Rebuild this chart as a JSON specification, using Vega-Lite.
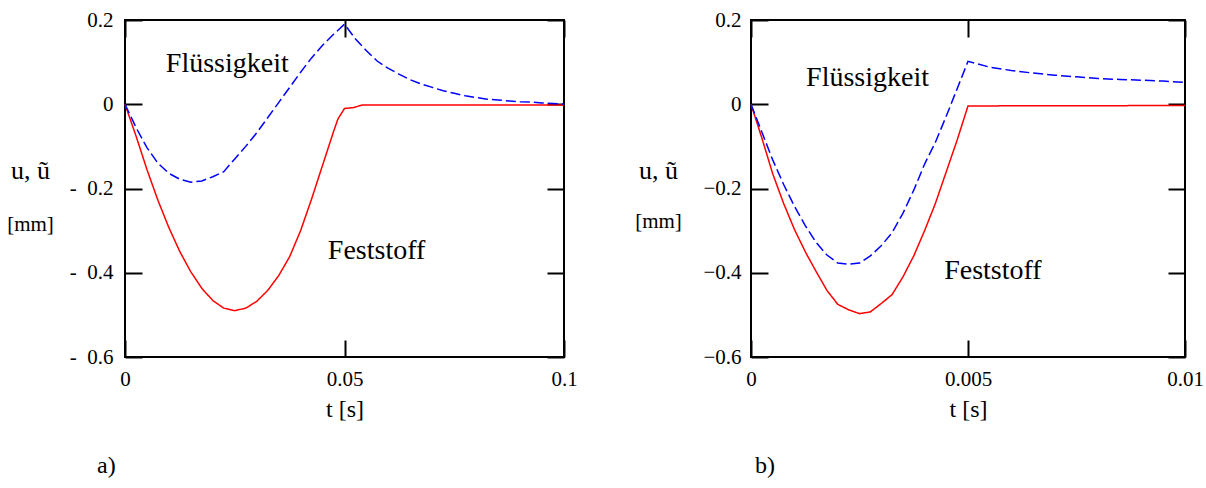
{
  "$schema": "https://vega.github.io/schema/vega-lite/v6.json",
  "background": "white",
  "padding": {"left": 5, "top": 8, "right": 0, "bottom": 5},
  "datasets": {
    "a": [
      {"t": 0, "u": 0, "s": "Feststoff"},
      {"t": 0.0025, "u": -0.075, "s": "Feststoff"},
      {"t": 0.005, "u": -0.155, "s": "Feststoff"},
      {"t": 0.0075, "u": -0.228, "s": "Feststoff"},
      {"t": 0.01, "u": -0.293, "s": "Feststoff"},
      {"t": 0.0125, "u": -0.35, "s": "Feststoff"},
      {"t": 0.015, "u": -0.398, "s": "Feststoff"},
      {"t": 0.0175, "u": -0.437, "s": "Feststoff"},
      {"t": 0.02, "u": -0.466, "s": "Feststoff"},
      {"t": 0.0225, "u": -0.484, "s": "Feststoff"},
      {"t": 0.025, "u": -0.49, "s": "Feststoff"},
      {"t": 0.0275, "u": -0.484, "s": "Feststoff"},
      {"t": 0.03, "u": -0.468, "s": "Feststoff"},
      {"t": 0.0325, "u": -0.442, "s": "Feststoff"},
      {"t": 0.035, "u": -0.407, "s": "Feststoff"},
      {"t": 0.0375, "u": -0.362, "s": "Feststoff"},
      {"t": 0.04, "u": -0.3, "s": "Feststoff"},
      {"t": 0.0425, "u": -0.225, "s": "Feststoff"},
      {"t": 0.045, "u": -0.145, "s": "Feststoff"},
      {"t": 0.0475, "u": -0.065, "s": "Feststoff"},
      {"t": 0.0485, "u": -0.035, "s": "Feststoff"},
      {"t": 0.05, "u": -0.01, "s": "Feststoff"},
      {"t": 0.052, "u": -0.008, "s": "Feststoff"},
      {"t": 0.054, "u": -0.002, "s": "Feststoff"},
      {"t": 0.1, "u": -0.002, "s": "Feststoff"},
      {"t": 0, "u": 0, "s": "Flüssigkeit"},
      {"t": 0.0025, "u": -0.055, "s": "Flüssigkeit"},
      {"t": 0.005, "u": -0.103, "s": "Flüssigkeit"},
      {"t": 0.0075, "u": -0.14, "s": "Flüssigkeit"},
      {"t": 0.01, "u": -0.164, "s": "Flüssigkeit"},
      {"t": 0.0125, "u": -0.178, "s": "Flüssigkeit"},
      {"t": 0.015, "u": -0.185, "s": "Flüssigkeit"},
      {"t": 0.0175, "u": -0.182, "s": "Flüssigkeit"},
      {"t": 0.02, "u": -0.172, "s": "Flüssigkeit"},
      {"t": 0.0225, "u": -0.16, "s": "Flüssigkeit"},
      {"t": 0.025, "u": -0.13, "s": "Flüssigkeit"},
      {"t": 0.0275, "u": -0.1, "s": "Flüssigkeit"},
      {"t": 0.03, "u": -0.068, "s": "Flüssigkeit"},
      {"t": 0.0325, "u": -0.032, "s": "Flüssigkeit"},
      {"t": 0.035, "u": 0.004, "s": "Flüssigkeit"},
      {"t": 0.0375, "u": 0.04, "s": "Flüssigkeit"},
      {"t": 0.04, "u": 0.076, "s": "Flüssigkeit"},
      {"t": 0.0425, "u": 0.11, "s": "Flüssigkeit"},
      {"t": 0.045, "u": 0.14, "s": "Flüssigkeit"},
      {"t": 0.0475, "u": 0.166, "s": "Flüssigkeit"},
      {"t": 0.05, "u": 0.19, "s": "Flüssigkeit"},
      {"t": 0.0525, "u": 0.155, "s": "Flüssigkeit"},
      {"t": 0.055, "u": 0.127, "s": "Flüssigkeit"},
      {"t": 0.0575, "u": 0.102, "s": "Flüssigkeit"},
      {"t": 0.06, "u": 0.085, "s": "Flüssigkeit"},
      {"t": 0.0625, "u": 0.071, "s": "Flüssigkeit"},
      {"t": 0.065, "u": 0.058, "s": "Flüssigkeit"},
      {"t": 0.0675, "u": 0.048, "s": "Flüssigkeit"},
      {"t": 0.07, "u": 0.04, "s": "Flüssigkeit"},
      {"t": 0.0725, "u": 0.032, "s": "Flüssigkeit"},
      {"t": 0.075, "u": 0.026, "s": "Flüssigkeit"},
      {"t": 0.0775, "u": 0.02, "s": "Flüssigkeit"},
      {"t": 0.08, "u": 0.016, "s": "Flüssigkeit"},
      {"t": 0.0825, "u": 0.012, "s": "Flüssigkeit"},
      {"t": 0.085, "u": 0.01, "s": "Flüssigkeit"},
      {"t": 0.0875, "u": 0.008, "s": "Flüssigkeit"},
      {"t": 0.09, "u": 0.006, "s": "Flüssigkeit"},
      {"t": 0.0925, "u": 0.005, "s": "Flüssigkeit"},
      {"t": 0.095, "u": 0.003, "s": "Flüssigkeit"},
      {"t": 0.0975, "u": 0.002, "s": "Flüssigkeit"},
      {"t": 0.1, "u": 0, "s": "Flüssigkeit"}
    ],
    "b": [
      {"t": 0, "u": 0, "s": "Feststoff"},
      {"t": 0.00025, "u": -0.08, "s": "Feststoff"},
      {"t": 0.0005, "u": -0.165, "s": "Feststoff"},
      {"t": 0.00075, "u": -0.235, "s": "Feststoff"},
      {"t": 0.001, "u": -0.297, "s": "Feststoff"},
      {"t": 0.00125, "u": -0.35, "s": "Feststoff"},
      {"t": 0.0015, "u": -0.397, "s": "Feststoff"},
      {"t": 0.00175, "u": -0.442, "s": "Feststoff"},
      {"t": 0.002, "u": -0.475, "s": "Feststoff"},
      {"t": 0.00225, "u": -0.488, "s": "Feststoff"},
      {"t": 0.0025, "u": -0.497, "s": "Feststoff"},
      {"t": 0.00275, "u": -0.493, "s": "Feststoff"},
      {"t": 0.003, "u": -0.473, "s": "Feststoff"},
      {"t": 0.00325, "u": -0.452, "s": "Feststoff"},
      {"t": 0.0035, "u": -0.41, "s": "Feststoff"},
      {"t": 0.00375, "u": -0.36, "s": "Feststoff"},
      {"t": 0.004, "u": -0.3, "s": "Feststoff"},
      {"t": 0.00425, "u": -0.235, "s": "Feststoff"},
      {"t": 0.0045, "u": -0.16, "s": "Feststoff"},
      {"t": 0.00475, "u": -0.085, "s": "Feststoff"},
      {"t": 0.005, "u": -0.004, "s": "Feststoff"},
      {"t": 0.01, "u": -0.003, "s": "Feststoff"},
      {"t": 0, "u": 0, "s": "Flüssigkeit"},
      {"t": 0.00025, "u": -0.066, "s": "Flüssigkeit"},
      {"t": 0.0005, "u": -0.132, "s": "Flüssigkeit"},
      {"t": 0.00075, "u": -0.19, "s": "Flüssigkeit"},
      {"t": 0.001, "u": -0.242, "s": "Flüssigkeit"},
      {"t": 0.00125, "u": -0.288, "s": "Flüssigkeit"},
      {"t": 0.0015, "u": -0.328, "s": "Flüssigkeit"},
      {"t": 0.00175, "u": -0.358, "s": "Flüssigkeit"},
      {"t": 0.002, "u": -0.377, "s": "Flüssigkeit"},
      {"t": 0.00225, "u": -0.38, "s": "Flüssigkeit"},
      {"t": 0.0025, "u": -0.377, "s": "Flüssigkeit"},
      {"t": 0.00275, "u": -0.36, "s": "Flüssigkeit"},
      {"t": 0.003, "u": -0.336, "s": "Flüssigkeit"},
      {"t": 0.00325, "u": -0.305, "s": "Flüssigkeit"},
      {"t": 0.0035, "u": -0.259, "s": "Flüssigkeit"},
      {"t": 0.00375, "u": -0.204, "s": "Flüssigkeit"},
      {"t": 0.004, "u": -0.142, "s": "Flüssigkeit"},
      {"t": 0.00425, "u": -0.09, "s": "Flüssigkeit"},
      {"t": 0.0045, "u": -0.028, "s": "Flüssigkeit"},
      {"t": 0.00475, "u": 0.037, "s": "Flüssigkeit"},
      {"t": 0.005, "u": 0.102, "s": "Flüssigkeit"},
      {"t": 0.0055, "u": 0.088, "s": "Flüssigkeit"},
      {"t": 0.006, "u": 0.08, "s": "Flüssigkeit"},
      {"t": 0.0065, "u": 0.074, "s": "Flüssigkeit"},
      {"t": 0.007, "u": 0.069, "s": "Flüssigkeit"},
      {"t": 0.0075, "u": 0.065, "s": "Flüssigkeit"},
      {"t": 0.008, "u": 0.061, "s": "Flüssigkeit"},
      {"t": 0.0085, "u": 0.059, "s": "Flüssigkeit"},
      {"t": 0.009, "u": 0.057, "s": "Flüssigkeit"},
      {"t": 0.0095, "u": 0.055, "s": "Flüssigkeit"},
      {"t": 0.01, "u": 0.052, "s": "Flüssigkeit"}
    ],
    "ta": [
      {"t": 0.0093, "u": 0.095, "label": "Flüssigkeit"},
      {"t": 0.0462, "u": -0.348, "label": "Feststoff"}
    ],
    "tb": [
      {"t": 0.00127, "u": 0.062, "label": "Flüssigkeit"},
      {"t": 0.00445, "u": -0.396, "label": "Feststoff"}
    ]
  },
  "spacing": 54,
  "hconcat": [
    {
      "width": 439,
      "height": 337,
      "title": {"text": "a)", "orient": "bottom", "anchor": "start", "frame": "group", "dx": -28, "offset": 33},
      "layer": [
        {
          "data": {"name": "a"},
          "mark": {"type": "line", "strokeWidth": 1.5},
          "encoding": {
            "x": {"field": "t", "type": "quantitative", "scale": {"domain": [0, 0.1], "nice": false, "zero": false},
              "axis": {"orient": "bottom", "values": [0, 0.05, 0.1], "labelExpr": "'' + datum.value", "title": "t [s]", "titleFontSize": 24, "titlePadding": 8, "labelPadding": 28}},
            "y": {"field": "u", "type": "quantitative", "scale": {"domain": [-0.6, 0.2], "nice": false, "zero": false},
              "axis": {"orient": "left", "values": [-0.6, -0.4, -0.2, 0, 0.2], "labelPadding": 29, "labelExpr": "datum.value == 0 ? '0' : (datum.value > 0 ? format(datum.value, '.1f') : '-\u00a0\u00a0' + format(-datum.value, '.1f'))", "title": "u, ũ", "titleAngle": 0, "titleX": -95, "titleY": 150, "titleAlign": "center", "titleBaseline": "middle", "titleFontSize": 26}},
            "color": {"field": "s", "type": "nominal", "scale": {"domain": ["Feststoff", "Flüssigkeit"], "range": ["#ff0000", "#0000ff"]}, "legend": null},
            "strokeDash": {"field": "s", "type": "nominal", "scale": {"domain": ["Feststoff", "Flüssigkeit"], "range": [[1, 0], [10, 4]]}, "legend": null}
          }
        },
        {
          "data": {"name": "ta"},
          "mark": {"type": "text", "align": "left", "baseline": "middle", "fontSize": 28, "font": "Liberation Serif", "color": "black"},
          "encoding": {
            "x": {"field": "t", "type": "quantitative",
              "axis": {"orient": "top", "values": [0, 0.05, 0.1], "labels": false, "title": "[mm]", "titleAngle": 0, "titleX": -95, "titleY": 204, "titleAlign": "center", "titleBaseline": "middle", "titleFontSize": 21}},
            "y": {"field": "u", "type": "quantitative",
              "axis": {"orient": "right", "values": [-0.6, -0.4, -0.2, 0, 0.2], "labels": false, "title": null}},
            "text": {"field": "label"}
          }
        }
      ],
      "resolve": {"axis": {"x": "independent", "y": "independent"}}
    },
    {
      "width": 434,
      "height": 337,
      "title": {"text": "b)", "orient": "bottom", "anchor": "start", "frame": "group", "dx": 4, "offset": 33},
      "layer": [
        {
          "data": {"name": "b"},
          "mark": {"type": "line", "strokeWidth": 1.5},
          "encoding": {
            "x": {"field": "t", "type": "quantitative", "scale": {"domain": [0, 0.01], "nice": false, "zero": false},
              "axis": {"orient": "bottom", "values": [0, 0.005, 0.01], "labelExpr": "'' + datum.value", "title": "t [s]", "titleFontSize": 24, "titlePadding": 8, "labelPadding": 28}},
            "y": {"field": "u", "type": "quantitative", "scale": {"domain": [-0.6, 0.2], "nice": false, "zero": false},
              "axis": {"orient": "left", "values": [-0.6, -0.4, -0.2, 0, 0.2], "labelPadding": 27, "labelExpr": "datum.value == 0 ? '0' : format(datum.value, '.1f')", "title": "u, ũ", "titleAngle": 0, "titleX": -93, "titleY": 150, "titleAlign": "center", "titleBaseline": "middle", "titleFontSize": 26}},
            "color": {"field": "s", "type": "nominal", "scale": {"domain": ["Feststoff", "Flüssigkeit"], "range": ["#ff0000", "#0000ff"]}, "legend": null},
            "strokeDash": {"field": "s", "type": "nominal", "scale": {"domain": ["Feststoff", "Flüssigkeit"], "range": [[1, 0], [10, 4]]}, "legend": null}
          }
        },
        {
          "data": {"name": "tb"},
          "mark": {"type": "text", "align": "left", "baseline": "middle", "fontSize": 28, "font": "Liberation Serif", "color": "black"},
          "encoding": {
            "x": {"field": "t", "type": "quantitative",
              "axis": {"orient": "top", "values": [0, 0.005, 0.01], "labels": false, "title": "[mm]", "titleAngle": 0, "titleX": -93, "titleY": 201, "titleAlign": "center", "titleBaseline": "middle", "titleFontSize": 21}},
            "y": {"field": "u", "type": "quantitative",
              "axis": {"orient": "right", "values": [-0.6, -0.4, -0.2, 0, 0.2], "labels": false, "title": null}},
            "text": {"field": "label"}
          }
        }
      ],
      "resolve": {"axis": {"x": "independent", "y": "independent"}}
    }
  ],
  "config": {
    "font": "Liberation Serif",
    "view": {"stroke": "black", "strokeWidth": 2},
    "axis": {
      "domain": false,
      "grid": false,
      "ticks": true,
      "tickSize": -17,
      "tickWidth": 2,
      "tickColor": "black",
      "labelFont": "Liberation Serif",
      "labelFontSize": 21,
      "labelColor": "black",
      "labelPadding": 27,
      "labelFlush": false,
      "labelOverlap": false,
      "titleFont": "Liberation Serif",
      "titleFontWeight": "normal",
      "titleColor": "black"
    },
    "title": {"font": "Liberation Serif", "fontSize": 24, "fontWeight": "normal", "color": "black"}
  }
}
